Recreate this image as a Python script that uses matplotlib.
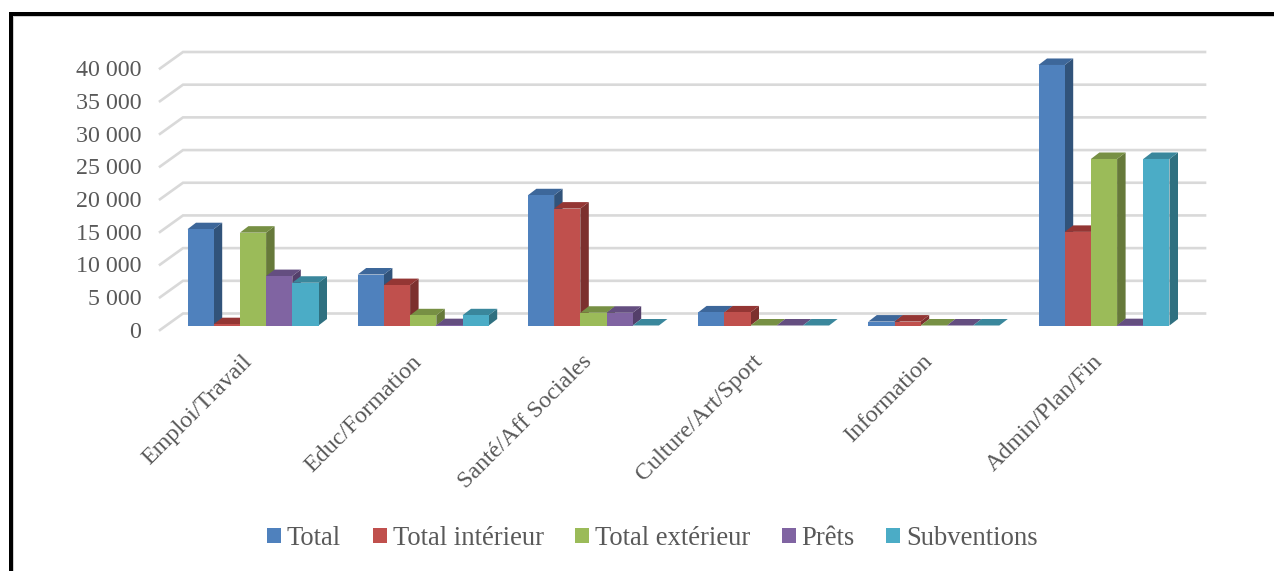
import matplotlib
matplotlib.use("Agg")
import matplotlib.pyplot as plt
from matplotlib.patches import Patch, Rectangle
from matplotlib.transforms import ScaledTranslation

categories = ["Emploi/Travail", "Educ/Formation", "Santé/Aff Sociales",
              "Culture/Art/Sport", "Information", "Admin/Plan/Fin"]
series_names = ["Total", "Total intérieur", "Total extérieur", "Prêts", "Subventions"]
total = [14730, 7800, 19920, 2000, 600, 39850]
interieur = [200, 6180, 17880, 2000, 600, 14320]
exterieur = [14200, 1560, 1950, 0, 0, 25470]
prets = [7560, 50, 1950, 0, 0, 50]
subventions = [6540, 1560, 0, 0, 0, 25470]
values = [total, interieur, exterieur, prets, subventions]
y_ticks = [0, 5000, 10000, 15000, 20000, 25000, 30000, 35000, 40000]
y_labels = ["0", "5 000", "10 000", "15 000", "20 000", "25 000", "30 000", "35 000", "40 000"]

front = ["#4F81BD", "#C0504D", "#9BBB59", "#8064A2", "#4BACC6"]
top = ["#3D679A", "#943634", "#779044", "#644E80", "#3A879C"]
side = ["#31537A", "#7C302E", "#66793A", "#543F6A", "#2F7080"]

W, H, DPI = 1274, 571, 100
plt.rcParams["font.family"] = ["Liberation Serif", "DejaVu Serif"]
TEXT = "#595959"

fig = plt.figure(figsize=(W / DPI, H / DPI), dpi=DPI, facecolor="white")
L, R, B, T = 160, 1205, 330, 40
ax = fig.add_axes([L / W, 1 - B / H, (R - L) / W, (B - T) / H])

PX_X = 170.2
PX_Y = 261.5 / 40000
G0 = 253.0
FLOOR = 325.5
ax.set_xlim((L - G0) / PX_X, (R - G0) / PX_X)
ax.set_ylim((FLOOR - B) / PX_Y, (FLOOR - T) / PX_Y)
ax.patch.set_alpha(0)
for s in ax.spines.values():
    s.set_visible(False)

# grid: short floor stub, then along the back wall
gx0 = ax.get_xlim()[0]
gx1 = gx0 + 23 / PX_X
gx2 = ax.get_xlim()[1]
for v in y_ticks:
    v0 = v - 4.5 / PX_Y
    v1 = v0 + 16.5 / PX_Y
    ax.plot([gx0, gx1, gx2], [v0, v1, v1], color="#D9D9D9", lw=1.9, zorder=1,
            clip_on=False, solid_joinstyle="miter")

bw = 26.2 / PX_X
dx = 8.5 / PX_X
dy = 6.5 / PX_Y
for k, vals in enumerate(values):
    for i, v in enumerate(vals):
        x0 = i + (k - 2.5) * bw
        x1 = x0 + bw
        z = 2 + k * 3
        ax.fill([x1, x1 + dx, x1 + dx, x1], [0, dy, v + dy, v], color=side[k], lw=0, zorder=z)
        ax.fill([x0, x0 + dx, x1 + dx, x1], [v, v + dy, v + dy, v], color=top[k], lw=0, zorder=z + 1)
        ax.bar(x0 + bw / 2, v, width=bw, color=front[k], lw=0, zorder=z + 2)

ax.set_yticks(y_ticks, y_labels)
ax.set_xticks(range(len(categories)), categories)
ax.tick_params(axis="y", length=0, pad=13.5, labelsize=17.3, labelcolor=TEXT)
ax.tick_params(axis="x", length=0, pad=14, labelsize=17.3, labelcolor=TEXT)
yshift = ScaledTranslation(0, -4.3 / DPI, fig.dpi_scale_trans)
for lab in ax.get_yticklabels():
    lab.set_transform(lab.get_transform() + yshift)
xshift = ScaledTranslation(-4.5 / DPI, -9 / DPI, fig.dpi_scale_trans)
for lab in ax.get_xticklabels():
    lab.set_transform(lab.get_transform() + xshift)
    lab.set_rotation(45)
    lab.set_ha("right")
    lab.set_rotation_mode("anchor")
    lab.set_va("center")

handles = [Patch(facecolor=c, lw=0) for c in front]
fig.legend(handles, series_names, loc="center", ncol=5, frameon=False,
           bbox_to_anchor=(652.5 / W, 1 - 538.5 / H), fontsize=19.2, labelcolor=TEXT,
           handlelength=0.525, handleheight=0.525, handletextpad=0.225, columnspacing=1.18,
           borderpad=0, borderaxespad=0)

# page frame with its soft grey inner edge
fig.add_artist(Rectangle((12.3 / W, 0), 2 / W, 1 - 15.5 / H, transform=fig.transFigure, color="#CFCFCF", lw=0))
fig.add_artist(Rectangle((12.3 / W, 1 - 17.2 / H), (W - 12.3) / W, 1.7 / H, transform=fig.transFigure, color="#CFCFCF", lw=0))
fig.add_artist(Rectangle((9.3 / W, 0), 3.2 / W, 1 - 12 / H, transform=fig.transFigure, color="black", lw=0))
fig.add_artist(Rectangle((9.3 / W, 1 - 15.5 / H), (W - 9.3) / W, 3.5 / H, transform=fig.transFigure, color="black", lw=0))

fig.savefig("out.png", dpi=DPI)
